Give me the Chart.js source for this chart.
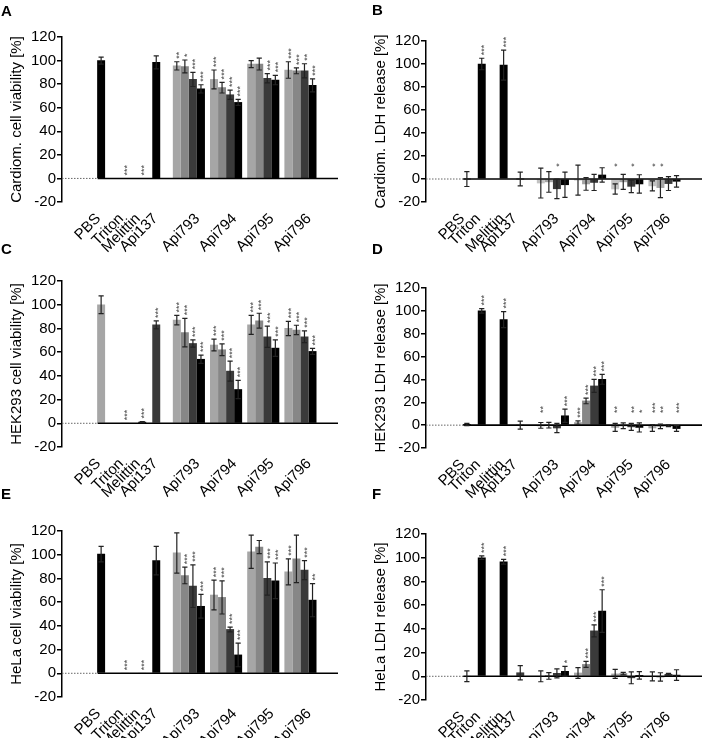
<!DOCTYPE html>
<html>
<head>
<meta charset="utf-8">
<script src="https://cdn.jsdelivr.net/npm/chart.js@4/dist/chart.umd.min.js"></script>
<style>
  html, body { margin: 0; padding: 0; background: #fff; }
  #wrap { position: relative; width: 709px; height: 738px; overflow: hidden; background: #fff; }
  canvas { position: absolute; }
  .letter { position: absolute; font: bold 15px 'Liberation Sans', Arial, sans-serif; color: #000; }
</style>
</head>
<body>
<div id="wrap">
  <canvas id="cA" width="354" height="272" style="left:0;top:0"></canvas>
  <canvas id="cB" width="345" height="272" style="left:364px;top:0"></canvas>
  <canvas id="cC" width="354" height="272" style="left:0;top:245px"></canvas>
  <canvas id="cD" width="345" height="272" style="left:364px;top:245px"></canvas>
  <canvas id="cE" width="354" height="248" style="left:0;top:490px"></canvas>
  <canvas id="cF" width="345" height="248" style="left:364px;top:490px"></canvas>
  <div class="letter" style="left:1px;top:2px">A</div>
  <div class="letter" style="left:372px;top:1px">B</div>
  <div class="letter" style="left:1px;top:240px">C</div>
  <div class="letter" style="left:372px;top:240px">D</div>
  <div class="letter" style="left:1px;top:485px">E</div>
  <div class="letter" style="left:372px;top:485px">F</div>
</div>
<script>
// ---------- data ----------
const controls = ['PBS', 'Triton', 'Melittin', 'Api137'];
const peptides = ['Api793', 'Api794', 'Api795', 'Api796'];
const yTickValues = [-20, 0, 20, 40, 60, 80, 100, 120];

// order: 4 controls, then 4 concentrations for each of Api793..Api796
const cardioViab    = [100, 0, 0, 98.5,   95.5, 95, 84, 76,   84, 77, 71, 64.5,   97, 97, 85, 83.5,   92, 91.3, 91.3, 79];
const cardioViabErr = [3, 0, 0, 5.5,      3.5, 5.5, 6, 3.5,   8, 4.5, 4, 2.5,     3, 5, 4, 4,         7, 2.5, 6, 5.5];
const cardioViabSig = ['', '***', '***', '',  '**', '*', '***', '***',  '***', '***', '***', '***',  '', '', '***', '***',  '***', '***', '**', '***'];

const cardioLdh    = [0, 100, 99, 0,   -3.5, -2.5, -8.5, -5,   -1, -4.3, -3, 3.5,   -8.7, -2.5, -6.4, -4.3,   -6, -7.5, -4, -2];
const cardioLdhErr = [6.5, 5, 13, 6,   13, 9, 8.5, 11,         13, 5.5, 7, 6.3,     4.5, 6.5, 5.5, 8,         4.4, 8.7, 6, 5];
const cardioLdhSig = ['', '***', '***', '',  '', '', '*', '',  '', '', '', '',  '*', '', '*', '',  '*', '*', '', ''];

const hekViab    = [100, 0, 1, 83,   87, 76.5, 67.3, 54,   66, 62, 44, 28.5,   83, 86.5, 73, 63.4,   80, 78.7, 73, 60.6];
const hekViabErr = [7.5, 0, 0.5, 3.3,  4, 12, 3, 3.5,      5, 5, 8.4, 7.7,     8, 6.3, 9, 7,         6, 4, 5, 2.5];
const hekViabSig = ['', '***', '***', '***',  '***', '***', '***', '***',  '***', '***', '***', '***',  '***', '***', '***', '***',  '***', '***', '***', '***'];

const hekLdh    = [0.5, 100, 92.4, 0,   -0.2, 0, -2.5, 8.2,   2.3, 21.2, 34.3, 40.1,   -2, -0.5, -1.5, -2,   -2.5, -1, -0.5, -3];
const hekLdhErr = [1, 2, 7, 3.5,        2.5, 2.5, 4, 5.8,     1.5, 2.5, 5.7, 4.3,      3.5, 2.5, 3, 4,       3, 2, 0.8, 2.5];
const hekLdhSig = ['', '***', '***', '',  '**', '', '', '***',  '***', '***', '***', '***',  '**', '', '**', '*',  '***', '**', '', '***'];

const helaViab    = [100.5, 0, 0, 95,   101.5, 82.5, 73.5, 56.5,   66, 64, 37, 15.5,   102.5, 106.5, 80, 78,   85.5, 96.5, 87, 61.7];
const helaViabErr = [6.5, 0, 0, 12,     17, 7, 18, 10,             12.5, 14, 2, 10,    14, 5.5, 14, 15,        11, 20, 8, 14];
const helaViabSig = ['', '***', '***', '',  '', '***', '***', '***',  '***', '***', '***', '***',  '', '', '***', '***',  '***', '', '***', '**'];

const helaLdh    = [0, 100, 96.6, 3,   0, 0.3, 2.5, 4.2,   2.8, 10, 38.3, 55,   2, 2.3, -1.3, 0.8,   0, -0.5, 1.7, 1];
const helaLdhErr = [4.5, 1.5, 2, 6,    4.6, 2.8, 3.8, 4.2, 4.5, 2.5, 5, 18,     3.8, 1, 5, 3.2,      3.8, 3.5, 0.8, 4.5];
const helaLdhSig = ['', '***', '***', '',  '', '', '', '*',  '', '***', '***', '***',  '', '', '', '',  '', '', '', ''];

// ---------- layout / style (not data) ----------
Chart.defaults.font.family = "'Liberation Sans', Arial, sans-serif";
Chart.defaults.color = '#000';
const LAYOUT = {
  left:  { ctrl: [25, 52, 72, 88], ctrlTick: [22, 48, 67, 87], groupTick: 23.5 },
  right: { ctrl: [27, 44, 69, 88], ctrlTick: [22, 40, 67, 82], groupTick: 18 }
};
const GROUP_START = [111.5, 154, 196.5, 239];
const STEP = 9.2;
const GROUP_COLORS = ['#a6a6a6', '#878787', '#3a3a3a', '#000000'];
const GROUP_COLORS_LIGHT = ['#c2c2c2', '#a4a4a4', '#383838', '#000000'];

function buildPanel(p) {
  const L = LAYOUT[p.side];
  const ctrlPos = L.ctrl;
  const positions = ctrlPos.slice();
  GROUP_START.forEach(s => { for (let c = 0; c < 4; c++) positions.push(s + c * STEP); });
  const tickPos = L.ctrlTick.concat(GROUP_START.map(s => s + L.groupTick));
  const tickLabels = controls.concat(peptides);
  const gcol = p.groupColors || GROUP_COLORS;
  const colors = p.ctrlColors.concat(gcol, gcol, gcol, gcol);
  const data = p.values.map((v, i) => ({ x: positions[i], y: v }));

  const extras = {
    id: 'extras' + p.id,
    afterDatasetsDraw(chart) {
      const { ctx, chartArea: a, scales: { x, y } } = chart;
      const meta = chart.getDatasetMeta(0);
      const y0 = y.getPixelForValue(0);
      ctx.save();
      // dotted + solid baseline
      const solidStart = x.getPixelForValue(ctrlPos[0] - 4);
      ctx.strokeStyle = '#666'; ctx.lineWidth = 1; ctx.setLineDash([1.5, 1.5]);
      ctx.beginPath(); ctx.moveTo(a.left, y0); ctx.lineTo(solidStart, y0); ctx.stroke();
      ctx.setLineDash([]);
      ctx.strokeStyle = '#000'; ctx.lineWidth = 1.6;
      ctx.beginPath(); ctx.moveTo(solidStart, y0); ctx.lineTo(a.right, y0); ctx.stroke();
      // error bars
      ctx.strokeStyle = '#222'; ctx.lineWidth = 1.2;
      meta.data.forEach((bar, i) => {
        const v = p.values[i], e = p.errors[i];
        if (!e) return;
        const yt = y.getPixelForValue(v + e), yb = y.getPixelForValue(v - e);
        ctx.beginPath();
        ctx.moveTo(bar.x, yt); ctx.lineTo(bar.x, yb);
        ctx.moveTo(bar.x - 2.6, yt); ctx.lineTo(bar.x + 2.6, yt);
        ctx.moveTo(bar.x - 2.6, yb); ctx.lineTo(bar.x + 2.6, yb);
        ctx.stroke();
      });
      // significance stars (vertical)
      ctx.fillStyle = '#444';
      const fs = 9;
      ctx.font = fs + "px 'Liberation Sans', Arial, sans-serif";
      ctx.textAlign = 'left'; ctx.textBaseline = 'alphabetic';
      meta.data.forEach((bar, i) => {
        const s = p.stars[i];
        if (!s) return;
        const v = p.values[i], e = p.errors[i];
        const base = v < 0 ? 8 : Math.max(v + e, 0);
        const py = y.getPixelForValue(base) - 3;
        ctx.save();
        ctx.translate(bar.x, py);
        ctx.rotate(-Math.PI / 2);
        ctx.fillText(s, 0, 0.58 * fs);
        ctx.restore();
      });
      ctx.restore();
    }
  };

  new Chart(document.getElementById(p.id), {
    type: 'bar',
    data: { datasets: [{ data, backgroundColor: colors, borderWidth: 0, barThickness: 7.3 }] },
    options: {
      responsive: false, animation: false, events: [],
      layout: { padding: { top: p.padTop, right: p.padRight, left: 0, bottom: 0 } },
      plugins: { legend: { display: false }, tooltip: { enabled: false } },
      scales: {
        x: {
          type: 'linear', min: 0, max: 276,
          grid: { display: false, drawTicks: false },
          border: { display: false },
          afterBuildTicks: s => { s.ticks = tickPos.map(v => ({ value: v })); },
          afterFit: s => { s.height = p.xh; },
          ticks: { autoSkip: false, minRotation: 45, maxRotation: 45, padding: 8,
                   font: { size: 15 }, color: '#000', callback: (v, i) => tickLabels[i] }
        },
        y: {
          min: -20, max: 120,
          afterBuildTicks: s => { s.ticks = yTickValues.map(v => ({ value: v })); },
          afterFit: s => { s.width = 62; },
          grid: { display: true, drawOnChartArea: false, drawTicks: true, tickLength: 5, color: '#000', lineWidth: 1.5 },
          border: { display: true, color: '#000', width: 1.5 },
          ticks: { font: { size: 15 }, color: '#000', padding: 1 },
          title: { display: true, text: p.title, font: { size: 15 }, color: '#000', padding: { top: 8, bottom: 0 } }
        }
      }
    },
    plugins: [extras]
  });
}

buildPanel({ id: 'cA', side: 'left', padTop: 37, padRight: 16, xh: 70, title: 'Cardiom. cell viability [%]',
  values: cardioViab, errors: cardioViabErr, stars: cardioViabSig, ctrlColors: ['#000', '#000', '#000', '#000'] });
buildPanel({ id: 'cB', side: 'right', padTop: 41, padRight: 7, xh: 70, title: 'Cardiom. LDH release [%]',
  values: cardioLdh, errors: cardioLdhErr, stars: cardioLdhSig, ctrlColors: ['#000', '#000', '#000', '#000'], groupColors: GROUP_COLORS_LIGHT });
buildPanel({ id: 'cC', side: 'left', padTop: 36, padRight: 16, xh: 70, title: 'HEK293 cell viability [%]',
  values: hekViab, errors: hekViabErr, stars: hekViabSig, ctrlColors: ['#a6a6a6', '#000', '#000', '#3a3a3a'] });
buildPanel({ id: 'cD', side: 'right', padTop: 43, padRight: 7, xh: 69, title: 'HEK293 LDH release [%]',
  values: hekLdh, errors: hekLdhErr, stars: hekLdhSig, ctrlColors: ['#000', '#000', '#000', '#000'] });
buildPanel({ id: 'cE', side: 'left', padTop: 41, padRight: 16, xh: 41, title: 'HeLa cell viability [%]',
  values: helaViab, errors: helaViabErr, stars: helaViabSig, ctrlColors: ['#000', '#000', '#000', '#000'] });
buildPanel({ id: 'cF', side: 'right', padTop: 44, padRight: 7, xh: 38, title: 'HeLa LDH release [%]',
  values: helaLdh, errors: helaLdhErr, stars: helaLdhSig, ctrlColors: ['#000', '#000', '#000', '#3a3a3a'] });
</script>
</body>
</html>
